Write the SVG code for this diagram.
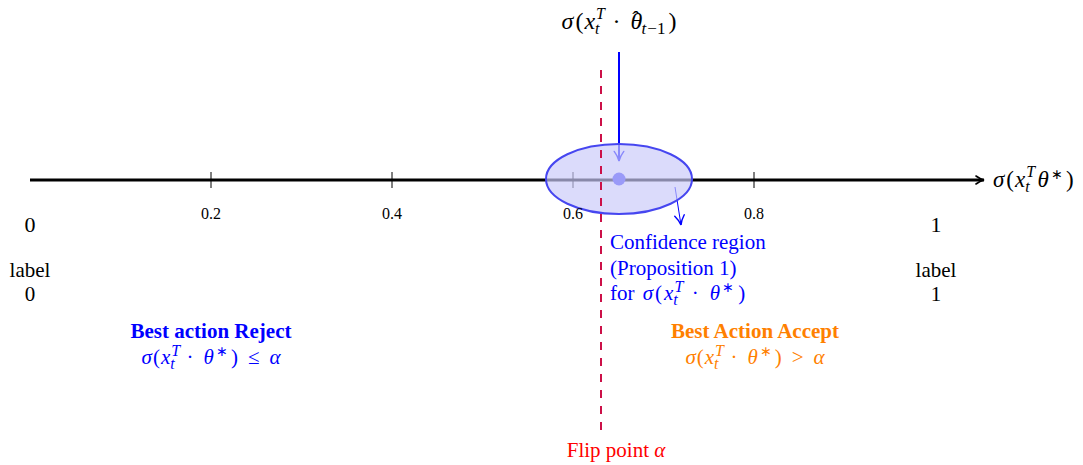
<svg xmlns="http://www.w3.org/2000/svg" width="1083" height="465" viewBox="0 0 1083 465">
<style>
text{font-family:"Liberation Serif","Times New Roman",serif;fill:#000}
.i{font-style:italic}
.s{font-size:16px}
.a{font-size:14px}
.tick{font-size:16px;text-anchor:middle}
.big{font-size:22px;text-anchor:middle}
.lbl{font-size:21px;text-anchor:middle}
.blue{fill:#0000ff}
.orange{fill:#ff8000}
.red{fill:#ff0000}
</style>
<defs>
<marker id="ah" viewBox="0 0 10 10" refX="9" refY="5" markerWidth="10" markerHeight="10" markerUnits="userSpaceOnUse" orient="auto">
<path d="M1,1 Q5,4 9,5 Q5,6 1,9" fill="none" stroke="#000" stroke-width="1.6" stroke-linecap="round"/>
</marker>
<marker id="bh" viewBox="0 0 10 10" refX="9" refY="5" markerWidth="12" markerHeight="12" markerUnits="userSpaceOnUse" orient="auto">
<path d="M1,1 Q5,4 9,5 Q5,6 1,9" fill="none" stroke="#0000ff" stroke-width="1.2" stroke-linecap="round"/>
</marker>
</defs>
<g id="connectors">
<line x1="30" y1="180" x2="984" y2="180" stroke="#000" stroke-width="3" marker-end="url(#ah)"/>
<g stroke="#000" stroke-width="1">
<line x1="211" y1="172" x2="211" y2="188"/>
<line x1="392" y1="172" x2="392" y2="188"/>
<line x1="573" y1="172" x2="573" y2="188"/>
<line x1="754" y1="172" x2="754" y2="188"/>
</g>
<line x1="619" y1="52" x2="619" y2="161" stroke="#0000ff" stroke-width="2" marker-end="url(#bh)"/>
<line x1="675" y1="187" x2="681" y2="225" stroke="#0000ff" stroke-width="1" marker-end="url(#bh)"/>
</g>
<g id="region">
<ellipse cx="619" cy="179" rx="73" ry="35" fill="#cacaf9" fill-opacity="0.68" stroke="#4646f0" stroke-width="2"/>
<circle cx="619" cy="179" r="6.5" fill="#9a9af8"/>
</g>
<g id="flip">
<line x1="601" y1="70" x2="601" y2="432" stroke="#cc1048" stroke-width="2" stroke-dasharray="8 8"/>
<text class="lbl red" x="616" y="457">Flip point <tspan class="i">α</tspan></text>
</g>
<g id="ticks">
<text class="tick" x="211" y="219">0.2</text>
<text class="tick" x="392" y="219">0.4</text>
<text class="tick" x="573" y="219">0.6</text>
<text class="tick" x="754" y="219">0.8</text>
<text class="big" x="30" y="232">0</text>
<text class="big" x="936" y="232">1</text>
</g>
<g id="label0">
<text class="lbl" x="30" y="277">label</text>
<text class="lbl" x="30" y="301">0</text>
</g>
<g id="label1">
<text class="lbl" x="936" y="277">label</text>
<text class="lbl" x="936" y="301">1</text>
</g>
<g id="estimate">
<text x="619" y="29" font-size="24" text-anchor="middle"><tspan class="i">σ</tspan><tspan dx="2">(</tspan><tspan class="i" dx="1">x</tspan><tspan class="i s" dx="1" dy="-10">T</tspan><tspan class="i s" dx="-10" dy="15">t</tspan><tspan dx="13" dy="-5">·</tspan><tspan class="i" dx="10">θ</tspan><tspan dx="-10" dy="-3" font-size="22">ˆ</tspan><tspan class="i" dx="2" dy="8" font-size="17">t</tspan><tspan dx="1" font-size="17">−1</tspan><tspan dx="3" dy="-5">)</tspan></text>
</g>
<g id="axislabel">
<text x="993" y="187" font-size="23"><tspan class="i">σ</tspan><tspan dx="2">(</tspan><tspan class="i" dx="1">x</tspan><tspan class="i s" dx="1" dy="-10">T</tspan><tspan class="i s" dx="-10" dy="15">t</tspan><tspan class="i" dx="8" dy="-5">θ</tspan><tspan class="a" dx="2" dy="-8">∗</tspan><tspan dx="3" dy="8">)</tspan></text>
</g>
<g id="confidence">
<text class="blue" x="610" y="249" font-size="21">Confidence region</text>
<text class="blue" x="610" y="275" font-size="21">(Proposition 1)</text>
<text class="blue" x="610" y="300" font-size="21">for <tspan class="i" dx="3">σ</tspan><tspan dx="2">(</tspan><tspan class="i" dx="2">x</tspan><tspan class="i s" dx="1" dy="-8">T</tspan><tspan class="i s" dx="-10" dy="13">t</tspan><tspan dx="14" dy="-5">·</tspan><tspan class="i" dx="11">θ</tspan><tspan class="a" dx="2" dy="-8">∗</tspan><tspan dx="4" dy="8">)</tspan></text>
</g>
<g id="reject">
<text class="lbl blue" x="211" y="338" font-weight="bold">Best action Reject</text>
<text class="lbl blue" x="211" y="364"><tspan class="i">σ</tspan><tspan dx="1">(</tspan><tspan class="i" dx="1">x</tspan><tspan class="i s" dx="1" dy="-8">T</tspan><tspan class="i s" dx="-10" dy="13">t</tspan><tspan dx="12" dy="-5">·</tspan><tspan class="i" dx="10">θ</tspan><tspan class="a" dx="2" dy="-8">∗</tspan><tspan dx="3" dy="8">)</tspan><tspan dx="10">≤</tspan><tspan class="i" dx="10">α</tspan></text>
</g>
<g id="accept">
<text class="lbl orange" x="755" y="338" font-weight="bold">Best Action Accept</text>
<text class="lbl orange" x="755" y="364"><tspan class="i">σ</tspan><tspan dx="1">(</tspan><tspan class="i" dx="1">x</tspan><tspan class="i s" dx="1" dy="-8">T</tspan><tspan class="i s" dx="-10" dy="13">t</tspan><tspan dx="12" dy="-5">·</tspan><tspan class="i" dx="10">θ</tspan><tspan class="a" dx="2" dy="-8">∗</tspan><tspan dx="3" dy="8">)</tspan><tspan dx="10">&gt;</tspan><tspan class="i" dx="10">α</tspan></text>
</g>
</svg>
